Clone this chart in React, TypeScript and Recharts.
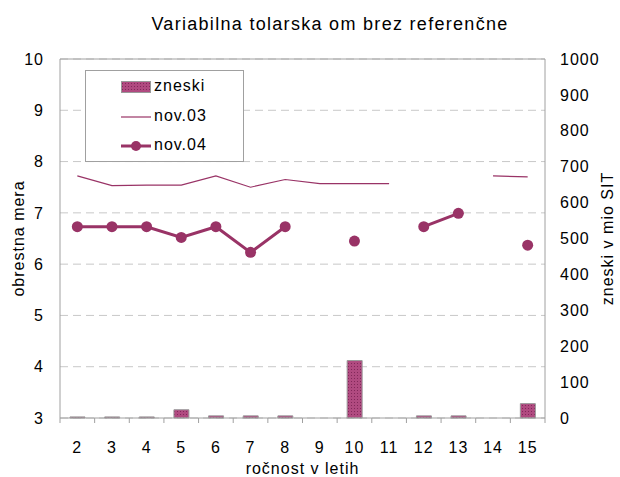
import React from 'react'
import {
  ComposedChart,
  Bar,
  Line,
  XAxis,
  YAxis,
  CartesianGrid,
  ReferenceLine,
  Label
} from 'recharts'

const years = ['2', '3', '4', '5', '6', '7', '8', '9', '10', '11', '12', '13', '14', '15']
const zneski = [3, 3, 3, 23, 6, 6, 6, 0, 160, 0, 6, 6, 0, 40]
const nov03 = [7.72, 7.53, 7.54, 7.54, 7.72, 7.5, 7.65, 7.57, 7.57, 7.57, null, null, 7.72, 7.7]
const nov04 = [6.73, 6.73, 6.73, 6.52, 6.73, 6.23, 6.73, null, 6.45, null, 6.73, 6.99, null, 6.37]
const leftTicks = [3, 4, 5, 6, 7, 8, 9, 10]
const rightTicks = [0, 100, 200, 300, 400, 500, 600, 700, 800, 900, 1000]

const data = years.map((y, i) => ({
  year: y,
  zneski: zneski[i],
  nov03: nov03[i],
  nov04: nov04[i]
}))

const W = 620
const H = 477
const LEFT_W = 60
const RIGHT_W = 75
const PLOT_W = W - LEFT_W - RIGHT_W
const FONT = '"Liberation Sans", Arial, sans-serif'
const PLUM = '#993366'
const AXIS = '#a0a0a0'

// category ticks: label at the centre, tick mark on the category boundaries
const CatTick = (props: any) => {
  const { x, y, payload, index } = props
  const step = PLOT_W / years.length
  return (
    <g>
      <line x1={x - step / 2} y1={y} x2={x - step / 2} y2={y + 5} stroke={AXIS} />
      {index === years.length - 1 && (
        <line x1={x + step / 2} y1={y} x2={x + step / 2} y2={y + 5} stroke={AXIS} />
      )}
      <text
        x={x}
        y={y + 35}
        textAnchor="middle"
        fontSize={16}
        letterSpacing={1}
        fill="#000"
        fontFamily={FONT}
      >
        {payload.value}
      </text>
    </g>
  )
}

const LegendBox = () => (
  <div
    style={{
      position: 'absolute',
      left: 85,
      top: 70,
      width: 157,
      height: 90,
      border: '1px solid #a0a0a0',
      background: '#fff',
      fontFamily: FONT,
      fontSize: 16,
      letterSpacing: 1,
      color: '#000'
    }}
  >
    <svg width={157} height={90} style={{ position: 'absolute', left: 0, top: 0 }}>
      <defs>
        <pattern id="dotsL" width={3} height={3} patternUnits="userSpaceOnUse">
          <rect width={3} height={3} fill="#b04a80" />
          <rect width={1} height={1} fill="#82285a" />
        </pattern>
      </defs>
      <rect x={35.5} y={10.5} width={29} height={11} fill="url(#dotsL)" stroke="#999" />
      <line x1={35} y1={46} x2={65} y2={46} stroke={PLUM} strokeWidth={1.2} />
      <line x1={35} y1={75} x2={65} y2={75} stroke={PLUM} strokeWidth={3} />
      <circle cx={50} cy={75} r={5} fill={PLUM} />
    </svg>
    <div style={{ position: 'absolute', left: 68, top: 6 }}>zneski</div>
    <div style={{ position: 'absolute', left: 68, top: 36 }}>nov.03</div>
    <div style={{ position: 'absolute', left: 68, top: 65 }}>nov.04</div>
  </div>
)

export default function App() {
  return (
    <div style={{ position: 'absolute', left: 0, top: 0, width: W, height: H, background: '#fff' }}>
      <div
        style={{
          position: 'absolute',
          left: 40,
          width: 580,
          top: 14,
          textAlign: 'center',
          fontFamily: FONT,
          fontSize: 18,
          letterSpacing: 1.3,
          color: '#000'
        }}
      >
        Variabilna tolarska om brez referenčne
      </div>
      <ComposedChart
        width={W}
        height={H}
        data={data}
        margin={{ top: 59, right: 0, left: 0, bottom: 0 }}
        barSize={15}
        style={{ fontFamily: FONT }}
      >
        <defs>
          <pattern id="dots" width={3} height={3} patternUnits="userSpaceOnUse">
            <rect width={3} height={3} fill="#b04a80" />
            <rect width={1} height={1} fill="#82285a" />
          </pattern>
        </defs>
        <CartesianGrid yAxisId="left" vertical={false} stroke="#c8c8c8" strokeDasharray="8 5" />
        <ReferenceLine yAxisId="left" y={10} stroke={AXIS} />
        <XAxis
          dataKey="year"
          height={59}
          axisLine={{ stroke: AXIS }}
          tickLine={false}
          tickSize={0}
          tickMargin={0}
          interval={0}
          tick={<CatTick />}
        >
          <Label
            value="ročnost v letih"
            position="insideBottom"
            offset={3}
            fontSize={16}
            letterSpacing={1}
            fill="#000"
          />
        </XAxis>
        <YAxis
          yAxisId="left"
          width={LEFT_W}
          domain={[3, 10]}
          ticks={leftTicks}
          interval={0}
          axisLine={{ stroke: AXIS }}
          tickLine={false}
          tickSize={0}
          tickMargin={16}
          tick={{ fontSize: 16, fill: '#000', letterSpacing: 1 }}
        >
          <Label
            value="obrestna mera"
            angle={-90}
            position="center"
            dx={-12}
            fontSize={16}
            letterSpacing={1}
            fill="#000"
          />
        </YAxis>
        <YAxis
          yAxisId="right"
          orientation="right"
          width={RIGHT_W}
          domain={[0, 1000]}
          ticks={rightTicks}
          interval={0}
          axisLine={{ stroke: AXIS }}
          tickLine={false}
          tickSize={0}
          tickMargin={15}
          tick={{ fontSize: 16, fill: '#000', textAnchor: 'start', letterSpacing: 1 }}
        >
          <Label
            value="zneski v mio SIT"
            angle={-90}
            position="center"
            dx={25}
            fontSize={16}
            letterSpacing={1}
            fill="#000"
          />
        </YAxis>
        <Bar
          yAxisId="right"
          dataKey="zneski"
          fill="url(#dots)"
          stroke="#999"
          strokeWidth={1}
          isAnimationActive={false}
        />
        <Line
          yAxisId="left"
          dataKey="nov03"
          type="linear"
          stroke={PLUM}
          strokeWidth={1.2}
          dot={false}
          connectNulls={false}
          isAnimationActive={false}
        />
        <Line
          yAxisId="left"
          dataKey="nov04"
          type="linear"
          stroke={PLUM}
          strokeWidth={3}
          dot={{ r: 5.5, fill: PLUM, stroke: PLUM, strokeWidth: 0 }}
          connectNulls={false}
          isAnimationActive={false}
        />
      </ComposedChart>
      <LegendBox />
    </div>
  )
}
